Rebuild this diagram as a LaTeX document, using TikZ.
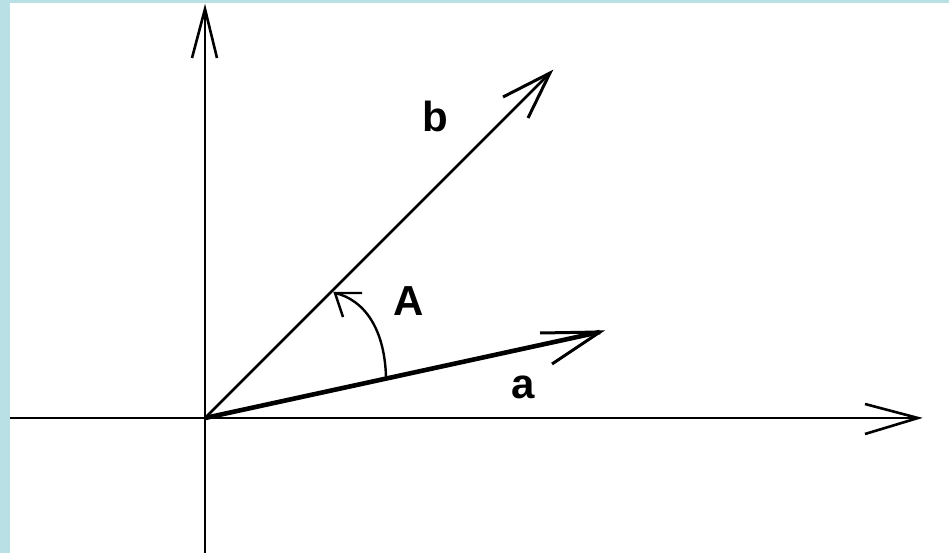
\documentclass[tikz,border=0pt]{standalone}
\usepackage{fontspec}
\setmainfont{Liberation Sans}
\definecolor{frameblue}{RGB}{185,224,228}
\tikzset{
  axis/.style={line width=2.6pt, black},
  vec/.style={line width=2.6pt, black},
  veca/.style={line width=4.6pt, black},
  barb/.style={line width=3pt, black},
  lbl/.style={inner sep=0pt, font=\fontsize{42}{42}\selectfont\bfseries}
}
\begin{document}
\begin{tikzpicture}[x=1pt,y=-1pt]
\useasboundingbox (0,0) rectangle (949,553);
\fill[frameblue] (0,0) rectangle (949,553);
\fill[white] (10,3) rectangle (949,553);
% coordinates
\coordinate (O) at (205,418);
\coordinate (ybot) at (205,553);
\coordinate (ytip) at (205,9);
\coordinate (yl) at (192,58);
\coordinate (yr) at (217,58);
\coordinate (xleft) at (10,418);
\coordinate (xtip) at (918,418);
\coordinate (xu) at (865,404);
\coordinate (xd) at (865,434);
\coordinate (btip) at (550,73);
\coordinate (bl) at (503,97);
\coordinate (br) at (528,118);
\coordinate (atip) at (600,332);
\coordinate (au) at (540,333);
\coordinate (ad) at (552,364);
\coordinate (arcs) at (386,378);
\coordinate (arce) at (335,293);
\coordinate (arcu) at (362,293);
\coordinate (arcd) at (343,317);
% axes
\draw[axis] (ybot) -- (ytip);
\draw[axis] (yl) -- (ytip) -- (yr);
\draw[axis] (xleft) -- (xtip);
\draw[axis] (xu) -- (xtip) -- (xd);
% vector b
\draw[vec] (O) -- (btip);
\draw[barb] (bl) -- (btip) -- (br);
% vector a
\draw[veca] (O) -- (atip);
\draw[barb] (au) -- (atip) -- (ad);
% angle arc
\draw[line width=2.4pt] (arcs) .. controls (385,330) and (365,300) .. (arce);
\draw[line width=2.4pt] (arcu) -- (arce) -- (arcd);
% labels
\node[lbl] (lb) at (435,116) {b};
\node[lbl] (la) at (523,387) {a};
\node[lbl] (lA) at (409,301) {A};
\end{tikzpicture}
\end{document}
